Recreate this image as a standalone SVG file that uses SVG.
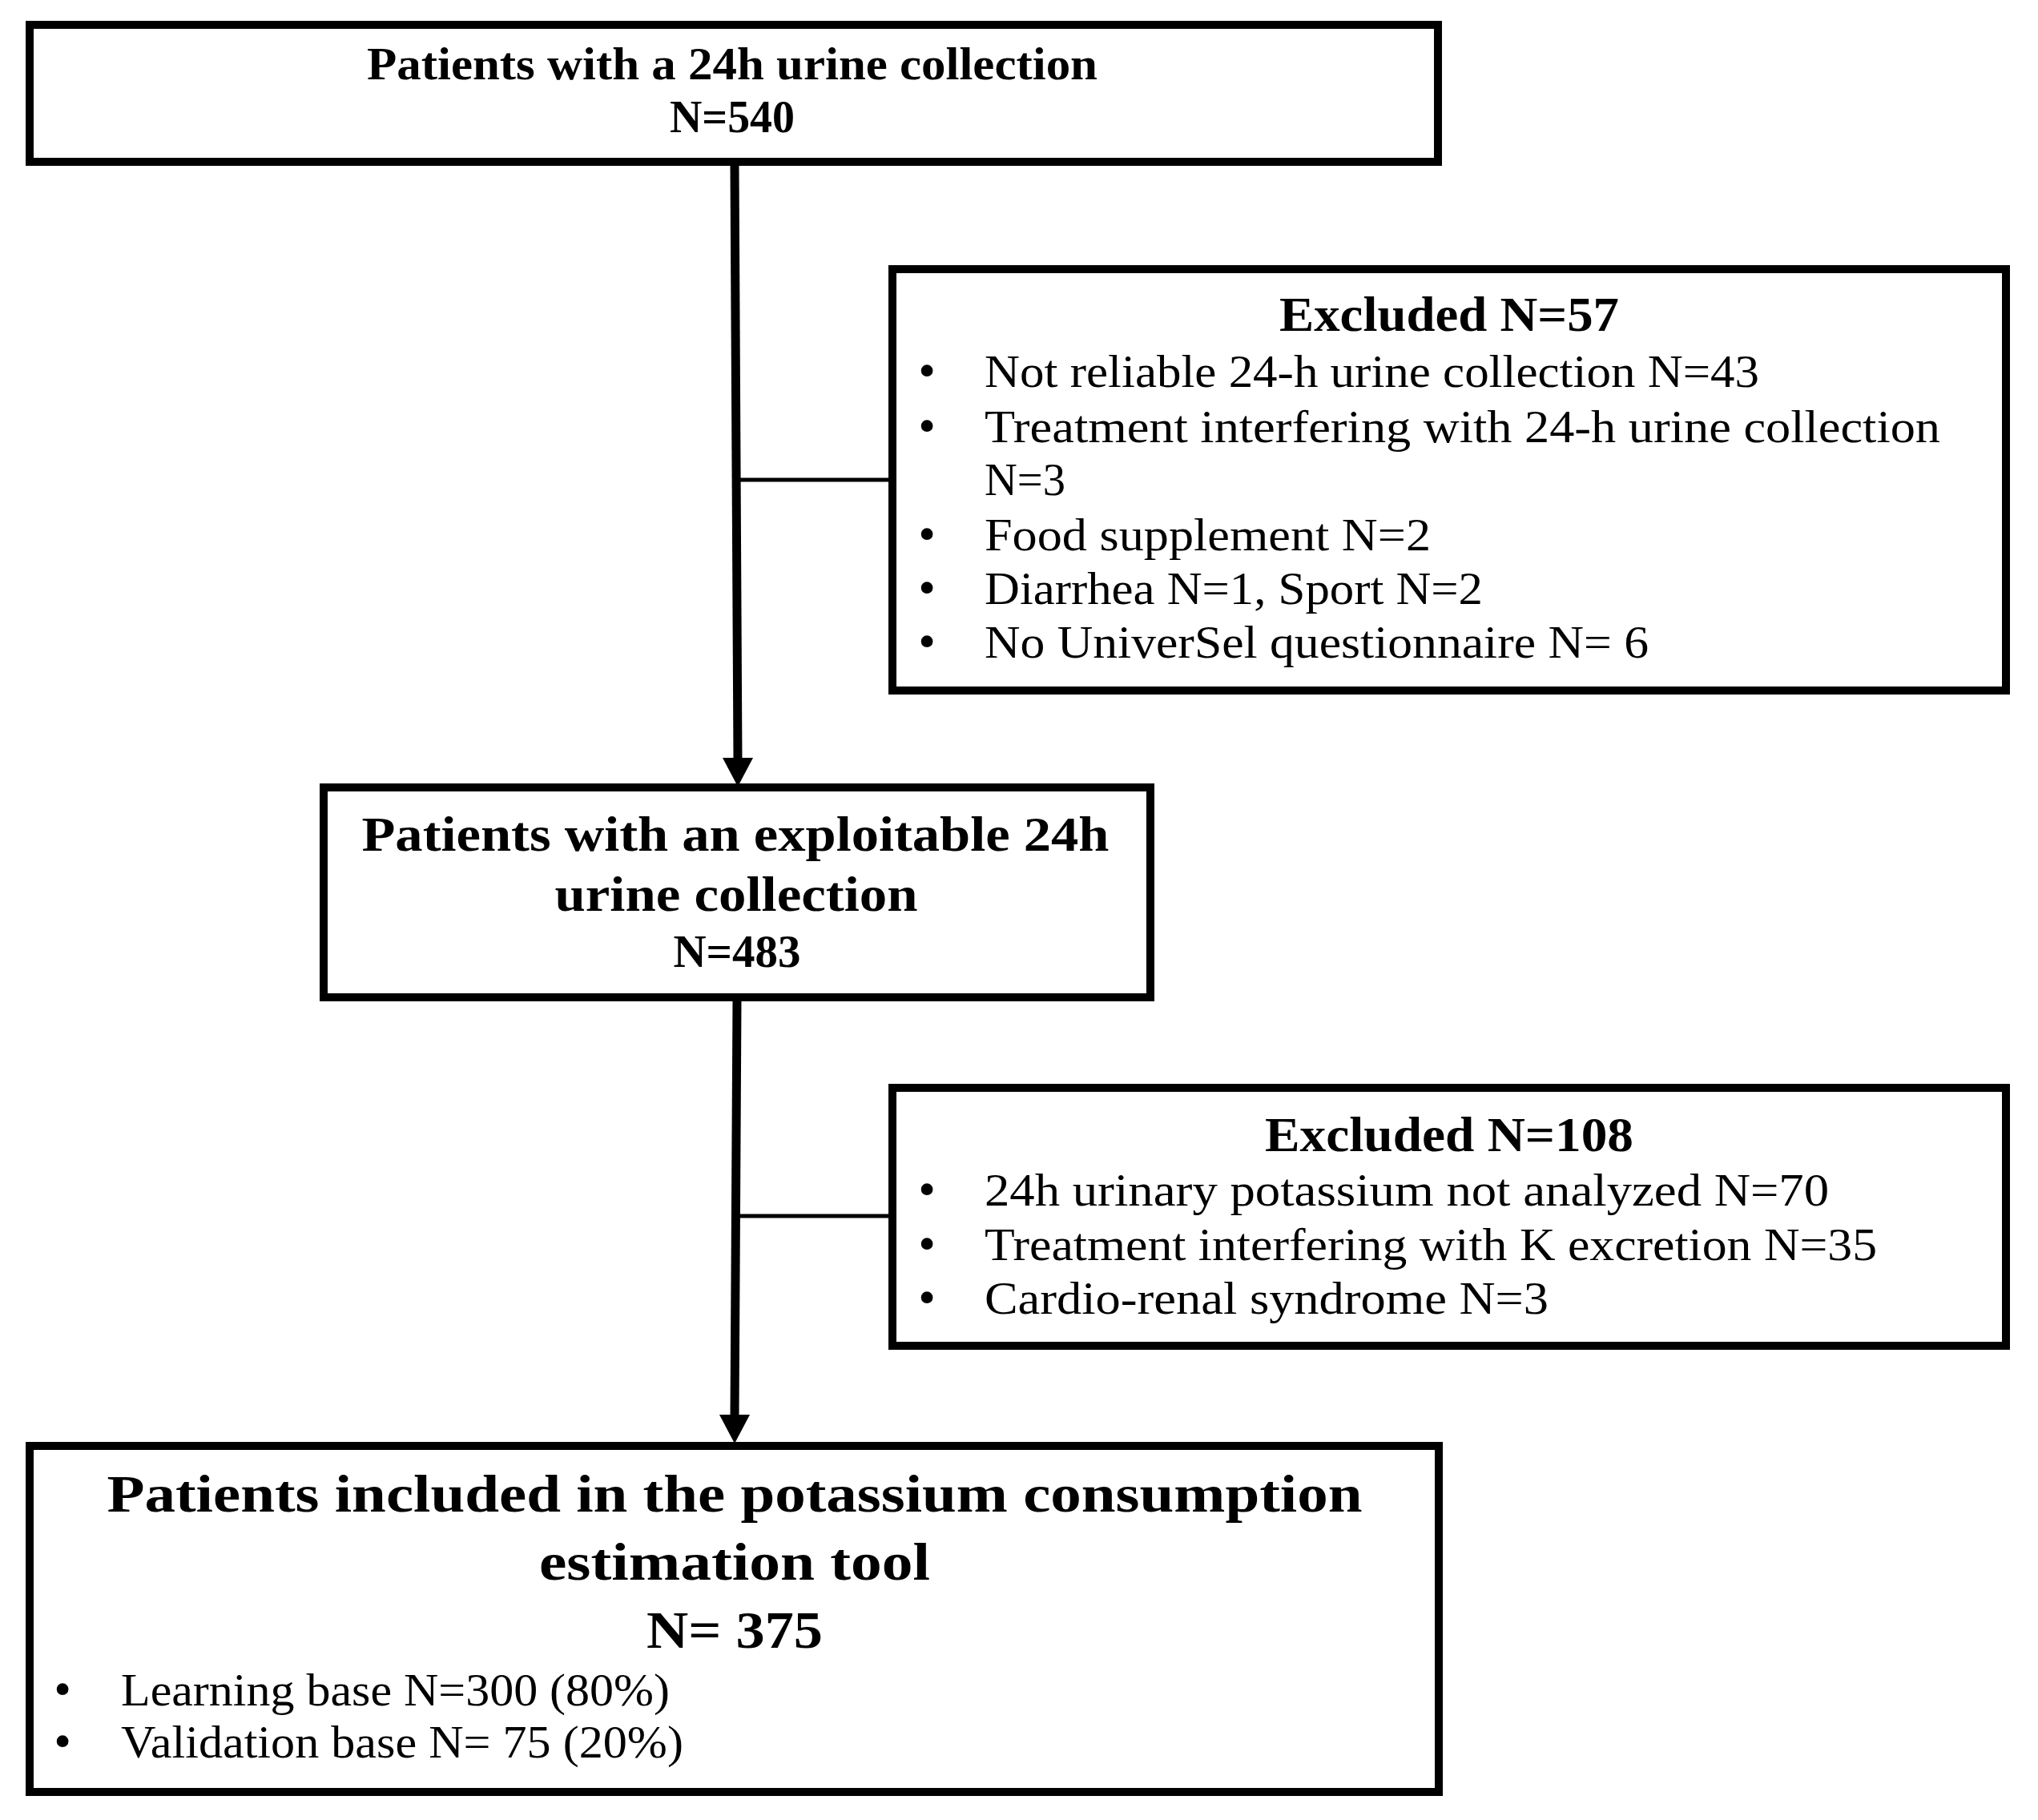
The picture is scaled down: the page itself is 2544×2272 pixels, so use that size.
<svg xmlns="http://www.w3.org/2000/svg" width="2544" height="2272" viewBox="0 0 2544 2272">
<style>
.box{fill:#fff;stroke:#000;stroke-width:10}
.t{font-family:"Liberation Serif","Times New Roman",serif;fill:#000}
.b{font-weight:bold}
.c{text-anchor:middle}
.r{font-size:58px}
.bul{font-size:62px;text-anchor:middle}
.conn{stroke:#000;fill:none}
</style>
<rect width="2544" height="2272" fill="#fff"/>
<g id="connectors">
<line class="conn" x1="917" y1="207" x2="921" y2="950" stroke-width="11"/>
<polygon points="902,946 940,946 921,982" fill="#000"/>
<line class="conn" x1="919" y1="599" x2="1112" y2="599" stroke-width="5"/>
<line class="conn" x1="920" y1="1248" x2="917" y2="1770" stroke-width="11"/>
<polygon points="898,1766 936,1766 917,1802" fill="#000"/>
<line class="conn" x1="918" y1="1518" x2="1112" y2="1518" stroke-width="5"/>
</g>
<g id="n1">
<rect class="box" x="37" y="31" width="1758" height="171"/>
<text class="t b c" x="914" y="99" font-size="56" textLength="912" lengthAdjust="spacingAndGlyphs">Patients with a 24h urine collection</text>
<text class="t b c" x="914" y="165" font-size="56" textLength="156" lengthAdjust="spacingAndGlyphs">N=540</text>
</g>
<g id="n2">
<rect class="box" x="1114" y="336" width="1390" height="526"/>
<text class="t b c" x="1809" y="413" font-size="62" textLength="424" lengthAdjust="spacingAndGlyphs">Excluded N=57</text>
<text class="t bul" x="1157" y="483">•</text>
<text class="t r" x="1229" y="483" textLength="967" lengthAdjust="spacingAndGlyphs">Not reliable 24-h urine collection N=43</text>
<text class="t bul" x="1157" y="552">•</text>
<text class="t r" x="1229" y="552" textLength="1193" lengthAdjust="spacingAndGlyphs">Treatment interfering with 24-h urine collection</text>
<text class="t r" x="1229" y="618" textLength="101" lengthAdjust="spacingAndGlyphs">N=3</text>
<text class="t bul" x="1157" y="687">•</text>
<text class="t r" x="1229" y="687" textLength="557" lengthAdjust="spacingAndGlyphs">Food supplement N=2</text>
<text class="t bul" x="1157" y="754">•</text>
<text class="t r" x="1229" y="754" textLength="622" lengthAdjust="spacingAndGlyphs">Diarrhea N=1, Sport N=2</text>
<text class="t bul" x="1157" y="821">•</text>
<text class="t r" x="1229" y="821" textLength="829" lengthAdjust="spacingAndGlyphs">No UniverSel questionnaire N= 6</text>
</g>
<g id="n3">
<rect class="box" x="404" y="983" width="1032" height="262"/>
<text class="t b c" x="918" y="1062" font-size="62" textLength="933" lengthAdjust="spacingAndGlyphs">Patients with an exploitable 24h</text>
<text class="t b c" x="919" y="1137" font-size="62" textLength="453" lengthAdjust="spacingAndGlyphs">urine collection</text>
<text class="t b c" x="920" y="1207" font-size="56" textLength="159" lengthAdjust="spacingAndGlyphs">N=483</text>
</g>
<g id="n4">
<rect class="box" x="1114" y="1358" width="1390" height="322"/>
<text class="t b c" x="1809" y="1437" font-size="62" textLength="460" lengthAdjust="spacingAndGlyphs">Excluded N=108</text>
<text class="t bul" x="1157" y="1505">•</text>
<text class="t r" x="1229" y="1505" textLength="1054" lengthAdjust="spacingAndGlyphs">24h urinary potassium not analyzed N=70</text>
<text class="t bul" x="1157" y="1573">•</text>
<text class="t r" x="1229" y="1573" textLength="1114" lengthAdjust="spacingAndGlyphs">Treatment interfering with K excretion N=35</text>
<text class="t bul" x="1157" y="1640">•</text>
<text class="t r" x="1229" y="1640" textLength="704" lengthAdjust="spacingAndGlyphs">Cardio-renal syndrome N=3</text>
</g>
<g id="n5">
<rect class="box" x="37" y="1805" width="1759" height="432"/>
<text class="t b c" x="917" y="1887" font-size="66" textLength="1567" lengthAdjust="spacingAndGlyphs">Patients included in the potassium consumption</text>
<text class="t b c" x="917" y="1972" font-size="66" textLength="488" lengthAdjust="spacingAndGlyphs">estimation tool</text>
<text class="t b c" x="917" y="2057" font-size="66" textLength="220" lengthAdjust="spacingAndGlyphs">N= 375</text>
<text class="t bul" x="78" y="2129">•</text>
<text class="t r" x="151" y="2129" textLength="685" lengthAdjust="spacingAndGlyphs">Learning base N=300 (80%)</text>
<text class="t bul" x="78" y="2194">•</text>
<text class="t r" x="151" y="2194" textLength="702" lengthAdjust="spacingAndGlyphs">Validation base N= 75 (20%)</text>
</g>
</svg>
